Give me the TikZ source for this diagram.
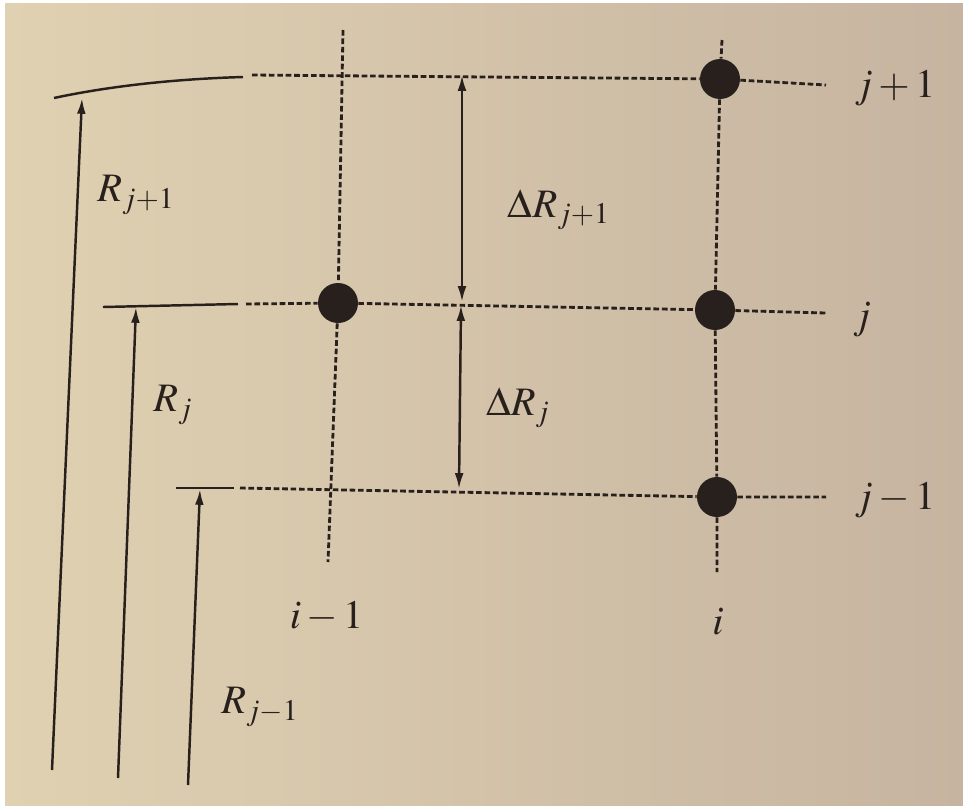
\documentclass[tikz,border=0pt]{standalone}
\usepackage{mathptmx}
\usepackage{tikz}
\usetikzlibrary{arrows.meta,calc,positioning}

\definecolor{paper}{RGB}{224,209,178}
\definecolor{paperdark}{RGB}{198,180,160}
\definecolor{ink}{RGB}{40,32,28}

\begin{document}
\begin{tikzpicture}[x=0.02cm,y=-0.02cm,>={Latex[length=9pt,width=5pt]},
    font=\fontsize{23}{27}\selectfont,
    grid/.style={ink,line width=1.6pt,dash pattern=on 3.2pt off 1.6pt},
    edge/.style={ink,line width=1.4pt},
    node dot/.style={circle,fill=ink,inner sep=0pt,minimum size=0.8cm},
    lbl/.style={text=ink,inner sep=0pt}]
    % paper
    \useasboundingbox (0,0) rectangle (963,805);
    \shade[left color=paper, right color=paperdark] (5,3) rectangle (963,805);

    % grid points
    \node[node dot] (ij) at (338,303) {};
    \node[node dot] (iip) at (720,79) {};
    \node[node dot] (ii) at (715,310) {};
    \node[node dot] (iim) at (717,497) {};

    % line ends
    \coordinate (top0) at (54,98);
    \coordinate (top1) at (243,77);
    \coordinate (jpw) at (252,75);
    \coordinate (jpe) at (826,85);
    \coordinate (j0) at (103,307);
    \coordinate (j1) at (238,304);
    \coordinate (jw) at (246,304);
    \coordinate (je) at (826,313);
    \coordinate (jm0) at (176,488);
    \coordinate (jm1) at (234,488);
    \coordinate (jmw) at (240,488);
    \coordinate (jme) at (826,497);
    \coordinate (imtop) at (343,30);
    \coordinate (imbot) at (328,562);
    \coordinate (itop) at (722,40);
    \coordinate (ibot) at (717,572);

    % rows
    \draw[edge] (top0) .. controls (110,86) and (175,79) .. (top1);
    \draw[grid] (jpw) -- (iip) -- (jpe);
    \draw[edge] (j0) -- (j1);
    \draw[grid] (jw) -- (ij) -- (ii) -- (je);
    \draw[edge] (jm0) -- (jm1);
    \draw[grid] (jmw) -- (iim) -- (jme);

    % columns
    \draw[grid] (imtop) -- (ij) -- (imbot);
    \draw[grid] (itop) -- (iip) -- (ii) -- (iim) -- (ibot);

    % radii
    \coordinate (r2) at (52,770);
    \coordinate (r1) at (118,778);
    \coordinate (r0) at (188,785);
    \draw[edge,->] (r2) -- (82,98);
    \draw[edge,->] (r1) -- (136,307);
    \draw[edge,->] (r0) -- (200,489);

    % spacings
    \coordinate (d2) at (462,75);
    \coordinate (d1a) at (462,302);
    \coordinate (d1b) at (461,305);
    \coordinate (d0) at (459,489);
    \draw[edge,<->] (d2) -- (d1a);
    \draw[edge,<->] (d1b) -- (d0);

    % labels
    \node[lbl] (lRjp) at (136,195) {$R_{j+1}$};
    \node[lbl] (lRj) at (173,405) {$R_j$};
    \node[lbl] (lRjm) at (260,707) {$R_{j-1}$};
    \node[lbl] (ldRjp) at (559,210) {$\Delta R_{j+1}$};
    \node[lbl] (ldRj) at (518,408) {$\Delta R_j$};
    \node[lbl] (ljp) at (895,88) {$j+1$};
    \node[lbl] (lj) at (862,320) {$j$};
    \node[lbl] (ljm) at (895,500) {$j-1$};
    \node[lbl] (lim) at (327,617) {$i-1$};
    \node[lbl] (li) at (718,622) {$i$};
\end{tikzpicture}
\end{document}
